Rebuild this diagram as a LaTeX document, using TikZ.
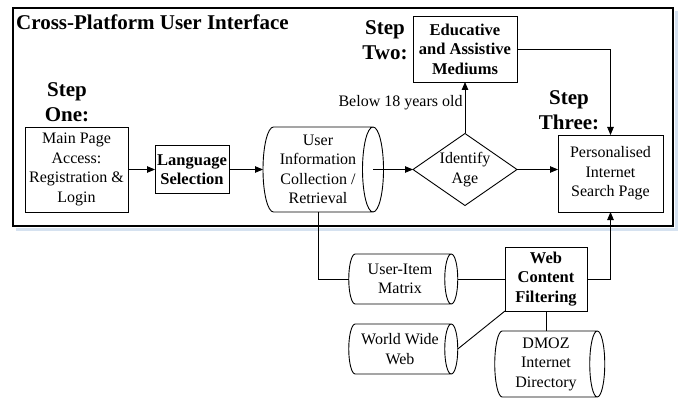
\documentclass[tikz,border=0pt]{standalone}
\usepackage{fontspec}
\setmainfont{Liberation Serif}
\usetikzlibrary{shapes.geometric,arrows.meta,calc}
\definecolor{shadowblue}{RGB}{214,226,240}
\newcommand\dcylshape[2]{%
  \draw[conn] let \p1=(#1.north west), \p2=(#1.south east) in
    (\x2,\y1) -- (\x1+#2pt,\y1) arc[start angle=90,end angle=270,x radius=#2pt,y radius={(\y1-\y2)/2}] -- (\x2,\y2)
    (\x2,{(\y1+\y2)/2}) ellipse[x radius=#2pt,y radius={(\y1-\y2)/2}];
}
\begin{document}
\begin{tikzpicture}[x=1pt,y=-1pt, font=\fontsize{16}{19.5}\selectfont,
  box/.style={draw, line width=0.9pt, align=center, inner sep=2pt, outer sep=0pt},
  bbox/.style={box, font=\fontsize{16.5}{19.5}\selectfont\bfseries},
  store/.style={align=center, inner sep=0pt, outer sep=0pt},
  steplabel/.style={font=\fontsize{21}{25}\selectfont\bfseries, align=center, inner sep=0pt},
  conn/.style={line width=0.9pt},
  arr/.style={conn, -{Triangle[length=8pt,width=6.5pt]}}]
\useasboundingbox (0,0) rectangle (680,401);
\draw[shadowblue, line width=3pt] (16,229) -- (676,229) -- (676,11);
\node[draw, line width=2.8pt, minimum width=660, minimum height=218, inner sep=0, outer sep=0] (frame) at (343,117) {};
\node[anchor=west, font=\fontsize{21}{25}\selectfont\bfseries, inner sep=0] (title) at (16,22) {Cross-Platform User Interface};

\node[box, minimum width=103, minimum height=85] (main) at (76.5,169.5) {Main Page\\Access:\\Registration \&\\Login};
\node[bbox, minimum width=74, minimum height=48] (lang) at (192,169.5) {Language\\Selection};
\node[store, minimum width=110, minimum height=85] (ui) at (318,169.5) {User\\Information\\Collection /\\Retrieval};
\dcylshape{ui}{10.5}
\node[diamond, draw, line width=0.9pt, minimum width=104, minimum height=72, aspect=1.44, inner sep=0, outer sep=0, align=center] (age) at (465,169.5) {Identify\\Age};
\node[bbox, minimum width=104, minimum height=66] (edu) at (465,49) {Educative\\and Assistive\\Mediums};
\node[box, minimum width=105, minimum height=77] (pers) at (610.5,173.5) {Personalised\\Internet\\Search Page};
\node[bbox, minimum width=82, minimum height=64] (wcf) at (546,279) {Web\\Content\\Filtering};
\node[store, minimum width=102.5, minimum height=50] (uim) at (400,279) {User-Item\\Matrix};
\dcylshape{uim}{6.5}
\node[store, minimum width=102.5, minimum height=50] (www) at (400,349) {World Wide\\Web};
\dcylshape{www}{6.5}
\node[store, minimum width=102.5, minimum height=66] (dmoz) at (546,364) {DMOZ\\Internet\\Directory};
\dcylshape{dmoz}{7.5}

\node[steplabel] (s1) at (67,102) {Step\\One:};
\node[steplabel] (s2) at (385,40) {Step\\Two:};
\node[steplabel] (s3) at (569,110) {Step\\Three:};

\draw[arr] (main.east) -- (lang.west);
\draw[arr] (lang.east) -- (ui.west);
\draw[arr] (ui.east) -- (age.west);
\draw[arr] (age.north) -- node[left, pos=0.6, inner sep=2pt] (below) {Below 18 years old} (edu.south);
\draw[arr] (age.east) -- (age.east -| pers.west);
\draw[arr] (edu.east) -| (pers.north);
\draw[conn] (ui.south) |- (uim.west);
\coordinate (uimR) at ([xshift=6.5pt]uim.east);
\coordinate (wwwR) at ([xshift=6.5pt]www.east);
\draw[conn] (uimR) -- (wcf.west);
\draw[arr] (wcf.east) -| (pers.south);
\draw[conn] (wwwR) -- (wcf.south west);
\draw[conn] (wcf.south) -- (dmoz.north);
\end{tikzpicture}
\end{document}
